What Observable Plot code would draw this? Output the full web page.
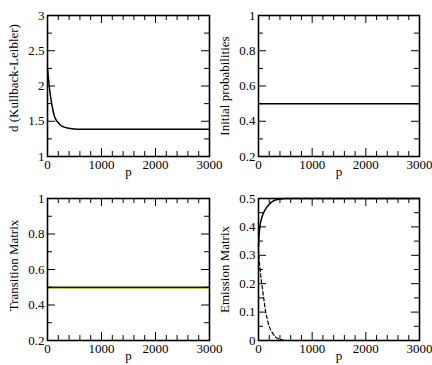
<!DOCTYPE html>
<html><head><meta charset="utf-8">
<script src="https://cdn.jsdelivr.net/npm/d3@7"></script>
<script src="https://cdn.jsdelivr.net/npm/@observablehq/plot@0.6"></script>
<style>
body{margin:0;background:#fff;}
#c{position:relative;width:432px;height:365px;overflow:hidden;background:#fff;}
#c svg{position:absolute;overflow:visible;background:transparent;}
#c svg, #c svg text{font-family:"Liberation Serif","Times New Roman",serif !important;}
</style></head><body><div id="c"></div>
<script>
// x axis (p)
const pMajor = [0, 1000, 2000, 3000];
const pMinor = [200, 400, 600, 800, 1200, 1400, 1600, 1800, 2200, 2400, 2600, 2800];

// Panel 1: d (Kullback-Leibler)
const klP = [0, 25, 50, 75, 100, 125, 150, 200, 250, 300, 400, 500, 600, 800, 1000, 1500, 2000, 2500, 3000];
const klD = [2.25, 2.05, 1.89, 1.76, 1.66, 1.58, 1.53, 1.48, 1.44, 1.42, 1.40, 1.39, 1.387, 1.386, 1.386, 1.386, 1.386, 1.386, 1.386];
const klMajor = [1, 1.5, 2, 2.5, 3];
const klMinor = [1.25, 1.75, 2.25, 2.75];

// Panel 2: Initial probabilities
const initP = [0, 3000];
const initV = [0.5, 0.5];
const probMajor = [0.2, 0.4, 0.6, 0.8, 1];
const probMinor = [0.3, 0.5, 0.7, 0.9];

// Panel 3: Transition Matrix
const transP = [0, 3000];
const transV = [0.5, 0.5];

// Panel 4: Emission Matrix
const emisSolidP = [0, 10, 25, 50, 80, 100, 150, 200, 250, 300, 400, 500, 1000, 2000, 3000];
const emisSolidV = [0.33, 0.37, 0.40, 0.425, 0.443, 0.452, 0.468, 0.48, 0.488, 0.494, 0.498, 0.5, 0.5, 0.5, 0.5];
const emisDashP = [0, 10, 25, 50, 75, 100, 135, 170, 205, 250, 320, 400, 470];
const emisDashV = [0.32, 0.29, 0.26, 0.215, 0.18, 0.145, 0.10, 0.07, 0.047, 0.03, 0.012, 0.004, 0];
const emisMajor = [0, 0.1, 0.2, 0.3, 0.4, 0.5];
const emisMinor = [0.05, 0.15, 0.25, 0.35, 0.45];

const FONT = "Liberation Serif";
const toRows = (xs, ys) => xs.map((x, i) => ({x, y: ys[i]}));
const fmt = d => String(d);

function panel({left, top, width, height, ml, mr, mt, mb, yDomain, yMajor, yMinor, yLabel, labelDy, lines}) {
  const fw = width - ml - mr, fh = height - mt - mb;
  const MAJ = 8, MIN = 5;
  const svg = Plot.plot({
    width, height, marginLeft: ml, marginRight: mr, marginTop: mt, marginBottom: mb,
    x: {domain: [0, 3000]}, y: {domain: yDomain},
    style: {background: "transparent", overflow: "visible", fontFamily: FONT, fontSize: "13px", color: "black"},
    marks: [
      ...lines,
      Plot.tickX(pMajor, {x: d => d, insetTop: fh - MAJ, stroke: "black"}),
      Plot.tickX(pMajor, {x: d => d, insetBottom: fh - MAJ, stroke: "black"}),
      Plot.tickX(pMinor, {x: d => d, insetTop: fh - MIN, stroke: "black"}),
      Plot.tickX(pMinor, {x: d => d, insetBottom: fh - MIN, stroke: "black"}),
      Plot.tickY(yMajor, {y: d => d, insetRight: fw - MAJ, stroke: "black"}),
      Plot.tickY(yMajor, {y: d => d, insetLeft: fw - MAJ, stroke: "black"}),
      Plot.tickY(yMinor, {y: d => d, insetRight: fw - MIN, stroke: "black"}),
      Plot.tickY(yMinor, {y: d => d, insetLeft: fw - MIN, stroke: "black"}),
      Plot.frame({stroke: "black", strokeWidth: 1.6}),
      Plot.axisX(pMajor, {tickSize: 0, tickPadding: 3, tickFormat: fmt, label: null, fontSize: 13, fontFamily: FONT, fill: "black"}),
      Plot.axisY(yMajor, {tickSize: 0, tickPadding: 3, tickFormat: fmt, label: null, fontSize: 13, fontFamily: FONT, fill: "black"}),
      Plot.text(["p"], {text: d => d, frameAnchor: "bottom", dy: 19, fontSize: 13, fontFamily: FONT, fill: "black"}),
      Plot.text([yLabel], {text: d => d, frameAnchor: "left", textAnchor: "middle", lineAnchor: "middle", rotate: -90, dx: -34, dy: labelDy, fontSize: 13, fontFamily: FONT, fill: "black"})
    ]
  });
  svg.style.left = left + "px";
  svg.style.top = top + "px";
  document.getElementById("c").appendChild(svg);
}

panel({left: 0, top: 0, width: 216, height: 182, ml: 47, mr: 7, mt: 15, mb: 26,
  yDomain: [1, 3], yMajor: klMajor, yMinor: klMinor, yLabel: "d (Kullback-Leibler)", labelDy: -8,
  lines: [Plot.line(toRows(klP, klD), {x: "x", y: "y", stroke: "black", strokeWidth: 1.5, curve: "monotone-x"})]});

panel({left: 216, top: 0, width: 216, height: 182, ml: 42, mr: 13, mt: 15, mb: 26,
  yDomain: [0.2, 1], yMajor: probMajor, yMinor: probMinor, yLabel: "Initial probabilities", labelDy: 0,
  lines: [Plot.line(toRows(initP, initV), {x: "x", y: "y", stroke: "black", strokeWidth: 1.5})]});

panel({left: 0, top: 182, width: 216, height: 183, ml: 47, mr: 7, mt: 16, mb: 25,
  yDomain: [0.2, 1], yMajor: probMajor, yMinor: probMinor, yLabel: "Transition Matrix", labelDy: -4,
  lines: [
    Plot.line(toRows(transP, transV), {x: "x", y: "y", stroke: "#a8a800", strokeWidth: 0.9, dy: 1}),
    Plot.line(toRows(transP, transV), {x: "x", y: "y", stroke: "#1a1a00", strokeWidth: 1.5})
  ]});

panel({left: 216, top: 182, width: 216, height: 183, ml: 42, mr: 13, mt: 16, mb: 25,
  yDomain: [0, 0.5], yMajor: emisMajor, yMinor: emisMinor, yLabel: "Emission Matrix", labelDy: 0,
  lines: [
    Plot.line(toRows(emisSolidP, emisSolidV), {x: "x", y: "y", stroke: "black", strokeWidth: 1.5, curve: "monotone-x"}),
    Plot.line(toRows(emisDashP, emisDashV), {x: "x", y: "y", stroke: "black", strokeWidth: 1.2, strokeDasharray: "3.5,2.5", curve: "monotone-x"})
  ]});
</script>
</body></html>
